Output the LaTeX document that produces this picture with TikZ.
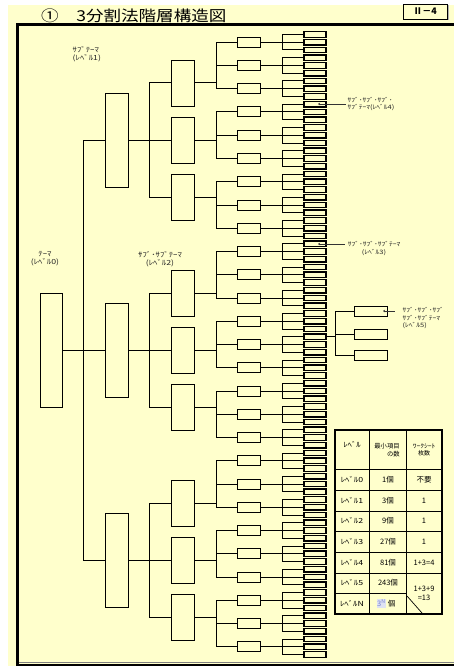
\documentclass[tikz,border=0pt]{standalone}
\usepackage{fontspec}
\setmainfont{Noto Sans CJK JP}
\newfontfamily\kanafont{Noto Sans CJK JP}[FakeStretch=1.25]
\newfontfamily\titrefont{Noto Sans CJK JP}[FakeStretch=1.17]
\usepackage{tikz}
\usetikzlibrary{arrows.meta,positioning,calc}
\definecolor{jauneFond}{RGB}{255,255,204}
\definecolor{bleuPale}{RGB}{222,226,242}
\definecolor{bleuTexte}{RGB}{120,130,210}

\begin{document}
\begin{tikzpicture}[x=1pt,y=-1pt,
  boite/.style={rectangle,draw=black,line width=0.9pt,fill=jauneFond,inner sep=0pt},
  b0/.style={boite,minimum width=22pt,minimum height=114pt},
  b1/.style={boite,minimum width=23pt,minimum height=94pt},
  b2/.style={boite,minimum width=23pt,minimum height=46pt},
  b3/.style={boite,minimum width=23pt,minimum height=10pt,line width=1pt},
  b4/.style={boite,minimum width=22pt,minimum height=5.5pt,line width=1.1pt},
  b5/.style={boite,minimum width=33pt,minimum height=10pt,line width=1pt},
  lien/.style={line width=1pt,black},
  fleche/.style={line width=0.7pt,black!80,-{Stealth[length=2pt,width=2.5pt]}},
  etiqG/.style={font=\kanafont\fontsize{7}{8}\selectfont,inner sep=0pt,text=black!85},
  etiqD/.style={font=\kanafont\fontsize{6}{7.5}\selectfont,inner sep=0pt,text=black!85},
  tabk/.style={font=\kanafont\fontsize{7}{8}\selectfont,inner sep=0pt},
  tabn/.style={font=\fontsize{7.5}{8.5}\selectfont,inner sep=0pt},
  grille/.style={line width=0.9pt,black}]

  \useasboundingbox (0,0) rectangle (454,666);
  \fill[jauneFond] (8,5) rectangle (454,666);

  % titre et cadre
  \node[anchor=base west,inner sep=0pt,font=\titrefont\fontsize{15}{15}\selectfont] (titre)
    at (41,21.5) {①　3分割法階層構造図};
  \fill[gray!60] (404.5,5.5) rectangle (449,20.5);
  \node[draw=black,line width=0.8pt,fill=jauneFond,minimum width=44pt,minimum height=15pt,
        inner sep=0pt,font=\bfseries\fontsize{9}{9}\selectfont] (numero) at (425,11.5) {Ⅱ－4};
  \draw[line width=3pt] (17.5,665) -- (17.5,25) -- (454,25);
  \draw[gray,line width=0.8pt] (19,662) -- (454,662);
  \draw[line width=1.5pt] (16,665) -- (454,665);

  % niveau 0
  \node[b0] (T) at (51,350) {};
  \coordinate (J0) at (83,350);
  \draw[lien] (T.east) -- (J0);

  % niveau 1
  \foreach \i in {0,1,2}{
    \node[b1] (A\i) at (116.5,{140+210*\i}) {};
    \draw[lien] (A\i.west) -| (J0);
    \coordinate (J1-\i) at (149,{140+210*\i});
    \draw[lien] (A\i.east) -- (J1-\i);
  }

  % niveau 2
  \foreach \m in {0,...,8}{
    \pgfmathsetmacro\yy{140+210*int(\m/3)+57*(mod(\m,3)-1)}
    \pgfmathtruncatemacro\idx{int(\m/3)}
    \node[b2] (B\m) at (182.5,\yy) {};
    \draw[lien] (B\m.west) -| (J1-\idx);
    \coordinate (J2-\m) at (216,\yy);
    \draw[lien] (B\m.east) -- (J2-\m);
  }

  % niveau 3
  \foreach \j in {0,...,26}{
    \pgfmathsetmacro\yy{42.25+23.25*\j}
    \pgfmathtruncatemacro\idx{int(\j/3)}
    \node[b3] (C\j) at (248.5,\yy) {};
    \draw[lien] (C\j.west) -| (J2-\idx);
    \coordinate (J3-\j) at (282,\yy);
    \draw[lien] (C\j.east) -- (J3-\j);
  }

  % niveau 4
  \foreach \k in {0,...,80}{
    \pgfmathtruncatemacro\idx{int(\k/3)}
    \node[b4] (D\k) at (315,{34.5+7.75*\k}) {};
    \draw[lien] (D\k.west) -| (J3-\idx);
  }

  % niveau 5
  \coordinate (J4) at (335,{34.5+7.75*39});
  \draw[lien] (D39.east) -- (J4);
  \foreach \e/\yy in {0/311,1/334.5,2/355}{
    \node[b5] (E\e) at (370.5,\yy) {};
    \draw[lien] (E\e.west) -| (J4);
  }

  % etiquettes
  \node[etiqG,align=left,anchor=west] (lab1) at (72.5,54) {ｻﾌﾞﾃｰﾏ\\(ﾚﾍﾞﾙ1)};
  \node[etiqG,align=center] (lab0) at (45,259) {ﾃｰﾏ\\(ﾚﾍﾞﾙ0)};
  \node[etiqG,align=center] (lab2) at (160,259) {ｻﾌﾞ･ｻﾌﾞﾃｰﾏ\\(ﾚﾍﾞﾙ2)};
  \node[etiqD,align=left,anchor=west] (lab4) at (347.5,104) {ｻﾌﾞ･ｻﾌﾞ･ｻﾌﾞ･\\ｻﾌﾞﾃｰﾏ(ﾚﾍﾞﾙ4)};
  \node[etiqD,align=center] (lab3) at (374,248.5) {ｻﾌﾞ･ｻﾌﾞ･ｻﾌﾞﾃｰﾏ\\(ﾚﾍﾞﾙ3)};
  \node[etiqD,align=left,anchor=west] (lab5) at (402.5,318.5) {ｻﾌﾞ･ｻﾌﾞ･ｻﾌﾞ\\ｻﾌﾞ･ｻﾌﾞﾃｰﾏ\\(ﾚﾍﾞﾙ5)};
  \coordinate (p4) at (318,104);
  \coordinate (p3) at (318,244);
  \coordinate (p5) at (383,311);
  \draw[fleche,shorten <=2pt] (lab4.west) -- (p4);
  \draw[fleche,shorten <=3pt] (p3 -| lab3.west) -- (p3);
  \draw[fleche,shorten <=8pt] (p5 -| lab5.west) -- (p5);

  % tableau
  \foreach \y in {469,490,511,531,552,573} \draw[grille] (335,\y) -- (442,\y);
  \draw[grille] (335,593) -- (406,593);
  \foreach \x in {369,406} \draw[grille] (\x,430) -- (\x,614);
  \draw[line width=1.2pt] (335,430) rectangle (442,614);
  \draw[line width=0.7pt] (407,596) -- (422,613);

  \node[tabk] (hniv) at (352,445) {ﾚﾍﾞﾙ};
  \node[font=\fontsize{6.3}{8}\selectfont,inner sep=0pt,align=right] (hnb) at (387,450) {最小項目\\の数};
  \node[etiqD,text=black,align=center] (hws) at (424,450) {ﾜｰｸｼｰﾄ\\{\normalfont 枚数}};

  \foreach \n/\yc/\nb/\ws in {0/479.5/1個/不要,1/500.5/3個/1,2/521/9個/1,3/541.5/27個/1,4/562.5/81個/1+3=4}{
    \node[tabk] (niv\n) at (352,\yc) {ﾚﾍﾞﾙ\n};
    \node[tabn] (nb\n) at (388,\yc) {\nb};
    \node[tabn] (ws\n) at (424,\yc) {\ws};
  }
  \node[tabk] (niv5) at (352,583) {ﾚﾍﾞﾙ5};
  \node[tabn] (nb5) at (388,583) {243個};
  \node[tabk] (nivN) at (352,603.5) {ﾚﾍﾞﾙN};
  \node[tabn] (nbN) at (386,603.5) {{\setlength\fboxsep{0.6pt}\colorbox{bleuPale}{\textcolor{bleuTexte}{3\textsuperscript{N}}}}~個};
  \node[tabn,align=center] (ws5) at (424,593.5) {1+3+9\\=13};
\end{tikzpicture}
\end{document}
